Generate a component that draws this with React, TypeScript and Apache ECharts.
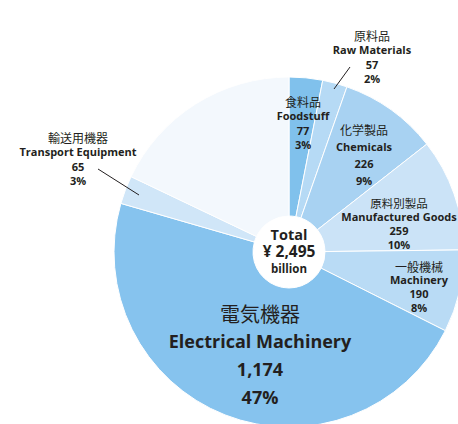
import React, { useEffect, useRef } from "react";
import * as echarts from "echarts";

const namesJa = ["食料品", "原料品", "化学製品", "原料別製品", "一般機械", "電気機器", "輸送用機器", "その他"];
const namesEn = ["Foodstuff", "Raw Materials", "Chemicals", "Manufactured Goods", "Machinery", "Electrical Machinery", "Transport Equipment", "Others"];
const values = [77, 57, 226, 259, 190, 1174, 65, 447];
const total = 2495;
const totalLabel = ["Total", "¥ 2,495", "billion"];
const colors = ["#80c1ec", "#b6daf5", "#a8d2f2", "#cbe3f7", "#b9dbf5", "#86c3ee", "#d0e6f8", "#f3f8fd"];

const FONT = '"Open Sans", "Noto Sans CJK JP", sans-serif';
const JPFONT = '"Noto Sans CJK JP", sans-serif';

// label layout: [centerX, firstLineY, lineSpacing, jpSize, enSize]; null = no label
const labelPos: (number[] | null)[] = [
  [303, 101, 14.5, 12, 11],
  [372, 35, 14.5, 12, 11],
  [364, 129, 17.3, 12, 11],
  [399, 203, 13.8, 11.5, 11],
  [419, 266, 13.7, 12, 11],
  [260, 313, 28, 20, 18],
  [78, 137, 14.5, 12, 11],
  null,
];
const leaders = [
  [1, 350, 67, 334, 89],
  [6, 98, 169, 139, 195],
];

export default function App() {
  const ref = useRef<HTMLDivElement>(null);
  useEffect(() => {
    document.body.style.margin = "0";
    const chart = echarts.init(ref.current!, null, { renderer: "svg" });
    const graphic: any[] = [];
    values.forEach((v, i) => {
      const p = labelPos[i];
      if (!p) return;
      const [cx, y0, sp, jp, en] = p;
      const pct = Math.round((v / total) * 100) + "%";
      const lines = [namesJa[i], namesEn[i], v.toLocaleString("en-US"), pct];
      lines.forEach((t, k) => {
        graphic.push({
          type: "text",
          x: cx,
          y: y0 + k * sp,
          style: {
            text: t,
            fill: "#231f20",
            font: k === 0 ? `normal ${jp}px ${JPFONT}` : `bold ${en}px ${FONT}`,
            align: "center",
            verticalAlign: "middle",
          },
          z: 10,
        });
      });
    });
    leaders.forEach(([, x1, y1, x2, y2]) => {
      graphic.push({
        type: "line",
        shape: { x1, y1, x2, y2 },
        style: { stroke: "#231f20", lineWidth: 1 },
        z: 10,
      });
    });
    const totalY = [234, 251, 268];
    const totalFont = [14.5, 15.5, 11.5];
    totalLabel.forEach((t, k) => {
      graphic.push({
        type: "text",
        x: 289,
        y: totalY[k],
        style: {
          text: t,
          fill: "#231f20",
          font: `bold ${totalFont[k]}px ${FONT}`,
          align: "center",
          verticalAlign: "middle",
        },
        z: 10,
      });
    });
    chart.setOption({
      animation: false,
      backgroundColor: "#ffffff",
      series: [
        {
          type: "pie",
          center: [289, 252],
          radius: [36, 175],
          startAngle: 90,
          clockwise: true,
          label: { show: false },
          labelLine: { show: false },
          emphasis: { disabled: true },
          itemStyle: { borderColor: "#ffffff", borderWidth: 1 },
          data: values.map((v, i) => ({
            value: v,
            name: namesEn[i],
            itemStyle: { color: colors[i] },
          })),
        },
      ],
      graphic,
    });
    return () => chart.dispose();
  }, []);
  return <div ref={ref} style={{ width: 458, height: 424 }} />;
}
